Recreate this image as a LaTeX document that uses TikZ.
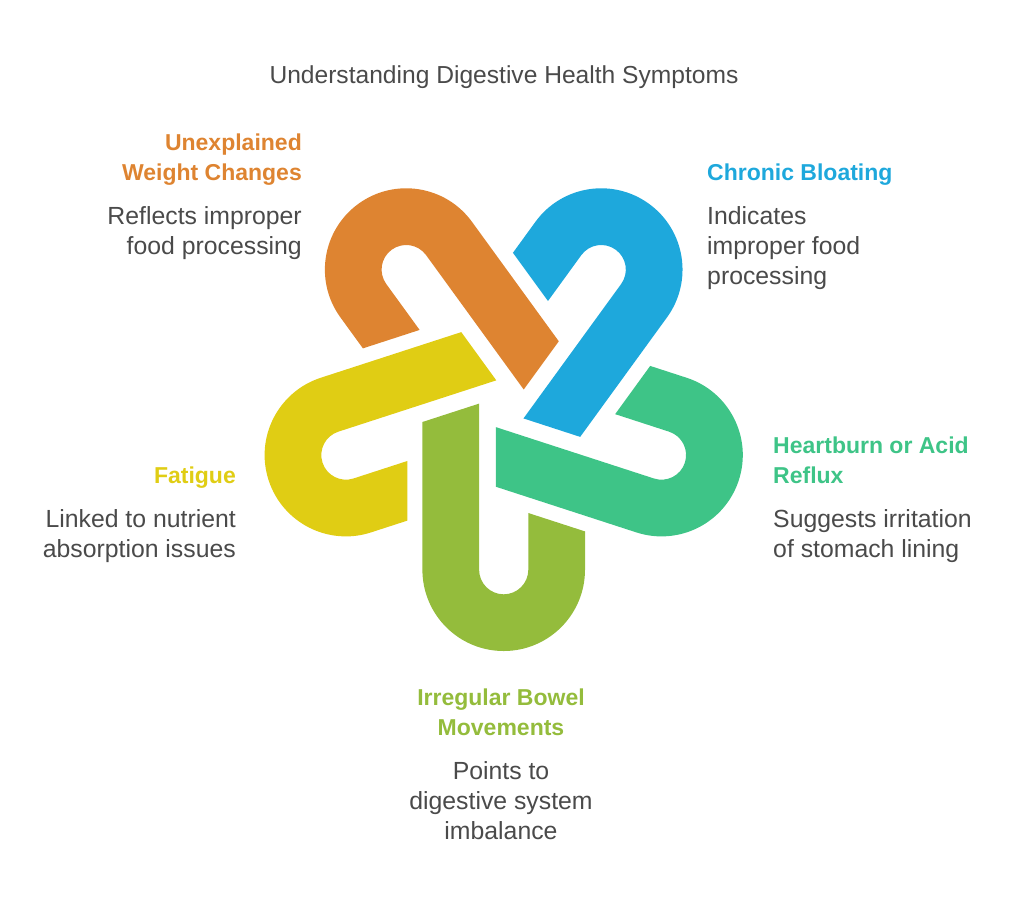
\documentclass[tikz,border=0pt]{standalone}
\usepackage{fontspec}
\setmainfont{Liberation Sans}
\definecolor{loopgreen}{HTML}{94BC3C}
\definecolor{loopteal}{HTML}{3EC487}
\definecolor{loopblue}{HTML}{1EA8DC}
\definecolor{looporange}{HTML}{DE8431}
\definecolor{loopyellow}{HTML}{E0CD14}
\definecolor{bodygray}{HTML}{4A4A4A}
\tikzset{
  bodytext/.style={font=\fontsize{24.8}{30}\selectfont, text=bodygray, inner sep=0pt, execute at begin node=\strut},
  headtext/.style={font=\fontsize{23}{30}\selectfont\bfseries, inner sep=0pt, execute at begin node=\strut},
}
\begin{document}
\begin{tikzpicture}[x=1pt,y=1pt]
    \useasboundingbox (0,0) rectangle (1024,-906);
    \node[font=\fontsize{24.6}{30}\selectfont, text=bodygray, inner sep=0pt] (title) at (504,-77) {Understanding Digestive Health Symptoms};
    % the five loops, one shape turned round the centre
    \foreach \ang/\col in {0/loopgreen,72/loopteal,144/loopblue,216/looporange,288/loopyellow} {
        \begin{scope}[shift={(503.7,-403.8)},rotate=\ang]
            \fill[\col] (-81.3,-18.2) -- (-81.3,-165.9) arc (180:360:81.3) -- (81.3,-127.6)
                -- (24.6,-109.2) -- (24.6,-165.9) arc (360:180:24.6) -- (-24.6,0.2) -- cycle;
        \end{scope}
    }
    \node[headtext, text=looporange, align=right, anchor=north east] (weighthead) at (302,-134) {Unexplained\\Weight Changes};
    \node[bodytext, align=right, anchor=north east] (weightbody) at (302,-206.5) {Reflects improper\\food processing};
    \node[headtext, text=loopblue, align=left, anchor=north west] (bloathead) at (707,-159) {Chronic Bloating};
    \node[bodytext, align=left, anchor=north west] (bloatbody) at (707,-206.5) {Indicates\\improper food\\processing};
    \node[headtext, text=loopteal, align=left, anchor=north west] (acidhead) at (773,-437) {Heartburn or Acid\\Reflux};
    \node[bodytext, align=left, anchor=north west] (acidbody) at (773,-509.5) {Suggests irritation\\of stomach lining};
    \node[headtext, text=loopyellow, align=right, anchor=north east] (fatiguehead) at (236,-462) {Fatigue};
    \node[bodytext, align=right, anchor=north east] (fatiguebody) at (236,-509.5) {Linked to nutrient\\absorption issues};
    \node[headtext, text=loopgreen, align=center, anchor=north] (bowelhead) at (501,-689) {Irregular Bowel\\Movements};
    \node[bodytext, align=center, anchor=north] (bowelbody) at (501,-761.5) {Points to\\digestive system\\imbalance};
\end{tikzpicture}
\end{document}
